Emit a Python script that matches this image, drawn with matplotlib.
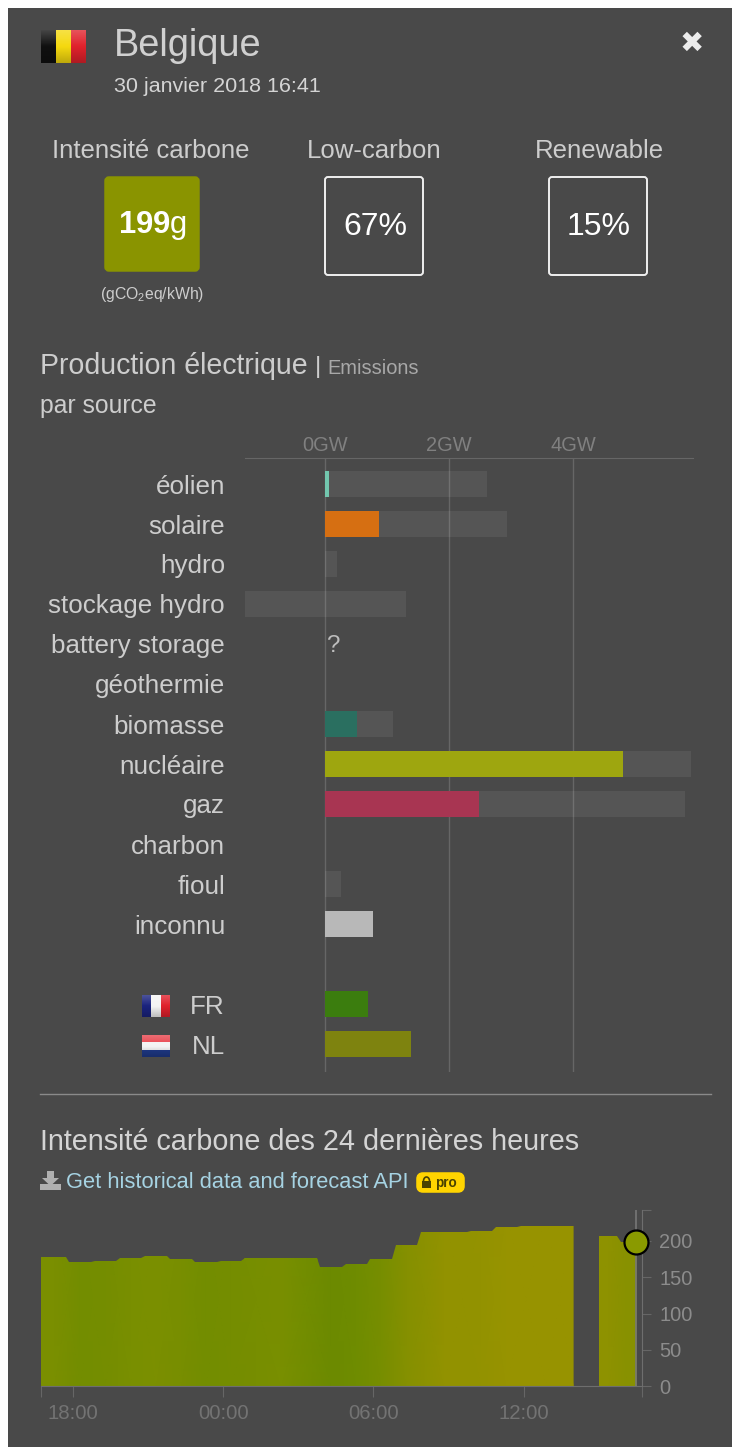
import numpy as np
import matplotlib
matplotlib.use("Agg")
import matplotlib.pyplot as plt
import matplotlib.patches as patches
from matplotlib.colors import LinearSegmentedColormap, Normalize

plt.rcParams["font.family"] = ["Liberation Sans", "DejaVu Sans"]
plt.rcParams["mathtext.fontset"] = "custom"
plt.rcParams["mathtext.rm"] = "Liberation Sans"
plt.rcParams["mathtext.bf"] = "Liberation Sans:bold"
plt.rcParams["mathtext.default"] = "regular"

# Production chart data (GW)
sources = ["éolien", "solaire", "hydro", "stockage hydro", "battery storage", "géothermie",
           "biomasse", "nucléaire", "gaz", "charbon", "fioul", "inconnu"]
production = [0.07, 0.87, 0, 0, 0, 0, 0.52, 4.81, 2.49, 0, 0, 0.77]
capacity_low = [0, 0, 0, -1.29, 0, 0, 0, 0, 0, 0, 0, 0]
capacity_high = [2.61, 2.94, 0.19, 1.31, 0, 0, 1.1, 5.91, 5.81, 0, 0.25, 0.77]
source_colors = ["#72c6ae", "#d66f12", "#555555", "#555555", "#555555", "#555555",
                 "#2a6f60", "#9ea60f", "#a83552", "#555555", "#555555", "#b8b8b8"]
exchange_zones = ["FR", "NL"]
exchange_values = [0.7, 1.39]
exchange_colors = ["#3b7d0e", "#7e830f"]
gw_ticks = [0, 2, 4]

# Carbon intensity history, hours relative to 18:00
times_a = [-1.29, -0.22, 0.8, 1.8, 2.8, 3.82, 4.81, 5.84, 6.8, 9.81, 10.82, 11.81,
           12.83, 13.82, 15.82, 16.81, 17.81, 19.98]
intensity_a = [178, 171.5, 173, 177, 179, 175.5, 171.5, 173, 177, 164.5, 168, 175,
               194, 213, 214, 220, 221, 221]
times_b = [21.0, 21.8, 22.5]
intensity_b = [207, 199, 199]
hour_ticks = [0, 6, 12, 18]
hour_labels = ["18:00", "00:00", "06:00", "12:00"]
intensity_ticks = [0, 50, 100, 150, 200]

BG = "#494949"
W, H = 732, 1447


def px_axes(left, top, right, bottom):
    return fig.add_axes([left / W, 1 - bottom / H, (right - left) / W, (bottom - top) / H])


def fs(px):
    return px * 0.72


def label(x, y, s, size, color="#cdcdcd", ha="left", **kw):
    # va=center sits a bit high compared to the browser text
    bg.text(x, y + 2, s, fontsize=fs(size), color=color, ha=ha, va="center", **kw)


def flag(x0, y0, x1, y1, stripes, vertical=True):
    # stripes plus a little gloss like the icon sprites
    n = len(stripes)
    for i, c in enumerate(stripes):
        if vertical:
            r = patches.Rectangle((x0 + (x1 - x0) * i / n, y0), (x1 - x0) / n, y1 - y0, color=c, lw=0)
        else:
            r = patches.Rectangle((x0, y0 + (y1 - y0) * i / n), x1 - x0, (y1 - y0) / n, color=c, lw=0)
        bg.add_patch(r)
    gloss = np.linspace(0.22, -0.22, 32)
    rgba = np.zeros((32, 1, 4))
    rgba[:, 0, :3] = (gloss > 0).astype(float)[:, None]
    rgba[:, 0, 3] = np.abs(gloss)
    bg.imshow(rgba, extent=(x0, x1, y1, y0), aspect="auto", interpolation="bilinear", zorder=3)


def ramp_steps(t, v, width=0.15):
    xs, ys = [t[0]], [v[0]]
    for i in range(1, len(t)):
        xs += [t[i] - width / 2, t[i] + width / 2]
        ys += [v[i - 1], v[i]]
    return np.array(xs), np.array(ys)


fig = plt.figure(figsize=(W / 100, H / 100), dpi=100, facecolor="white")
bg = fig.add_axes([0, 0, 1, 1], zorder=0)
bg.set_xlim(0, W)
bg.set_ylim(H, 0)
bg.axis("off")
bg.set_autoscale_on(False)
bg.add_patch(patches.Rectangle((8, 8), W - 8, H - 8, color=BG, lw=0))

# Header
flag(41, 30, 86, 63, ["#101010", "#f5d90f", "#e0222c"])
label(114, 44, "Belgique", 38, "#d0d0d0")
label(114, 85, "30 janvier 2018 16:41", 21.5, "#d4d4d4")
bg.text(692, 44, "\u2716", fontsize=fs(29), color="#ececec", ha="center", va="center", family="DejaVu Sans")

# Summary boxes
label(151, 149, "Intensité carbone", 25.8, ha="center")
label(374, 149, "Low-carbon", 25.8, ha="center")
label(599, 149, "Renewable", 25.8, ha="center")
bg.add_patch(patches.FancyBboxPatch((106, 178), 92, 92, boxstyle="round,pad=0,rounding_size=3",
                                    fc="#8a9400", ec="#8a9400", lw=2.5))
for x0 in [325, 549]:
    bg.add_patch(patches.FancyBboxPatch((x0, 177), 98, 98, boxstyle="round,pad=0,rounding_size=3",
                                        fc="none", ec="#efefef", lw=1.4))
label(152, 224, r"$\mathbf{199}$g", 31, "white", ha="center")
label(375, 225, "67%", 32, "white", ha="center")
label(599, 225, "15%", 32, "white", ha="center")
label(152, 292, r"(gCO$_2$eq/kWh)", 15.8, ha="center")

# Section title
label(40, 364, "Production électrique", 28.5)
label(315, 365, "|", 24)
label(327, 366, "Emissions", 20, "#a8a8a8")
label(40, 404, "par source", 24.8)

# Bars
ax = px_axes(245, 458, 693, 1072)
ax.patch.set_alpha(0)
ax.set_xlim(-80 / 62, 368 / 62)
ax.set_ylim(14.7, -0.65)
rows = np.arange(len(sources))
ex_rows = np.arange(len(exchange_zones)) + len(sources) + 1
ax.barh(rows, np.array(capacity_high) - np.array(capacity_low), left=capacity_low, height=0.65,
        color="white", alpha=0.07, lw=0, zorder=2)
ax.barh(rows, production, height=0.65, color=source_colors, lw=0, zorder=3)
ax.barh(ex_rows, exchange_values, height=0.65, color=exchange_colors, lw=0, zorder=3)
ax.text(0.02, sources.index("battery storage") + 0.05, "?", fontsize=fs(24), color="#bdbdbd", va="center")
ax.set_xticks(gw_ticks, [f"{t}GW" for t in gw_ticks])
ax.xaxis.tick_top()
ax.tick_params(axis="x", length=0, pad=2, labelsize=fs(20), labelcolor="#808080")
ax.set_yticks(list(rows) + list(ex_rows), sources + exchange_zones)
ax.tick_params(axis="y", length=0, pad=fs(20), labelsize=fs(26), labelcolor="#cdcdcd")
ax.grid(axis="x", color="#666666", lw=1, zorder=1)
ax.set_axisbelow(True)
for s in ["left", "right", "bottom"]:
    ax.spines[s].set_visible(False)
ax.spines["top"].set_color("#666666")

flag(142, 995, 170, 1017, ["#1a237e", "#f4f4f4", "#e0202c"])
flag(142, 1035, 170, 1057, ["#e8434c", "#f4f4f4", "#1f3a8a"], vertical=False)

# Divider and history title
bg.plot([40, 711], [1094, 1094], color="#8a8a8a", lw=1)
label(40, 1140, "Intensité carbone des 24 dernières heures", 28.7, "#d4d4d4")
label(66, 1181, "Get historical data and forecast API", 21.9, "#a6d3e3")
# download icon
bg.add_patch(patches.Polygon([(47, 1171), (54, 1171), (54, 1178), (59, 1178), (50.5, 1186), (42, 1178), (47, 1178)],
                             color="#b0b0b0", lw=0))
bg.add_patch(patches.Rectangle((40, 1184), 21, 6, color="#b0b0b0", lw=0))
# pro badge
bg.add_patch(patches.FancyBboxPatch((419, 1175), 43, 15, boxstyle="round,pad=0,rounding_size=4",
                                    fc="#ffd400", ec="#ffd400", lw=4))
bg.add_patch(patches.Rectangle((422, 1181), 9, 7, color="#4a4300", lw=0))
bg.add_patch(patches.Arc((426.5, 1181), 6, 8, theta1=180, theta2=360, color="#4a4300", lw=1.2))
label(435, 1181, "pro", 13.5, "#4a4300", fontweight="bold")

# History area chart
ax2 = px_axes(41, 1210, 642, 1386)
ax2.patch.set_alpha(0)
ax2.set_xlim(-32 / 25.03, 569 / 25.03)
ax2.set_ylim(0, 176 / 0.725)
cmap = LinearSegmentedColormap.from_list("co2", [(0, "#6a8a00"), (0.25, "#7a8f00"), (1, "#989300")])
norm = Normalize(163, 222)
for t, v in [(times_a, intensity_a), (times_b, intensity_b)]:
    xs, ys = ramp_steps(t, v)
    mids = [t[0]] + [(t[i] + t[i + 1]) / 2 for i in range(len(t) - 1)] + [t[-1]]
    vals = [v[0]] + list(v[:-1]) + [v[-2]]
    X, Y = np.meshgrid(mids, [0, 240])
    mesh = ax2.pcolormesh(X, Y, np.array([vals, vals]), cmap=cmap, norm=norm, shading="gouraud", zorder=2)
    clip = patches.Polygon(np.column_stack([np.r_[xs[0], xs, xs[-1]], np.r_[0, ys, 0]]),
                           transform=ax2.transData, fc="none", ec="none")
    ax2.add_patch(clip)
    mesh.set_clip_path(clip)
ax2.set_xlim(-32 / 25.03, 569 / 25.03)
ax2.set_ylim(0, 176 / 0.725)

ax2.axvline(times_b[-1], color="#777777", lw=1.2, zorder=3)
ax2.plot(times_b[-1], intensity_b[-1], "o", ms=fs(24), mfc="#8a9a00", mec="black", mew=1.6,
         clip_on=False, zorder=5)
xmin, xmax = ax2.get_xlim()
ax2.set_xticks([xmin] + hour_ticks + [xmax], [""] + hour_labels + [""])
ax2.tick_params(axis="x", length=fs(11), width=0.8, color="#666666", pad=5, labelsize=fs(20.4), labelcolor="#737373")
ax2.yaxis.tick_right()
ax2.set_yticks(intensity_ticks + [ax2.get_ylim()[1]], [str(t) for t in intensity_ticks] + [""])
ax2.tick_params(axis="y", length=fs(9), width=0.8, color="#666666", pad=6, labelsize=fs(20), labelcolor="#8c8c8c")
for s in ["left", "top"]:
    ax2.spines[s].set_visible(False)
ax2.spines["bottom"].set_color("#6e6e6e")
ax2.spines["right"].set_color("#6e6e6e")

fig.savefig("out.png", dpi=100, facecolor="white")
